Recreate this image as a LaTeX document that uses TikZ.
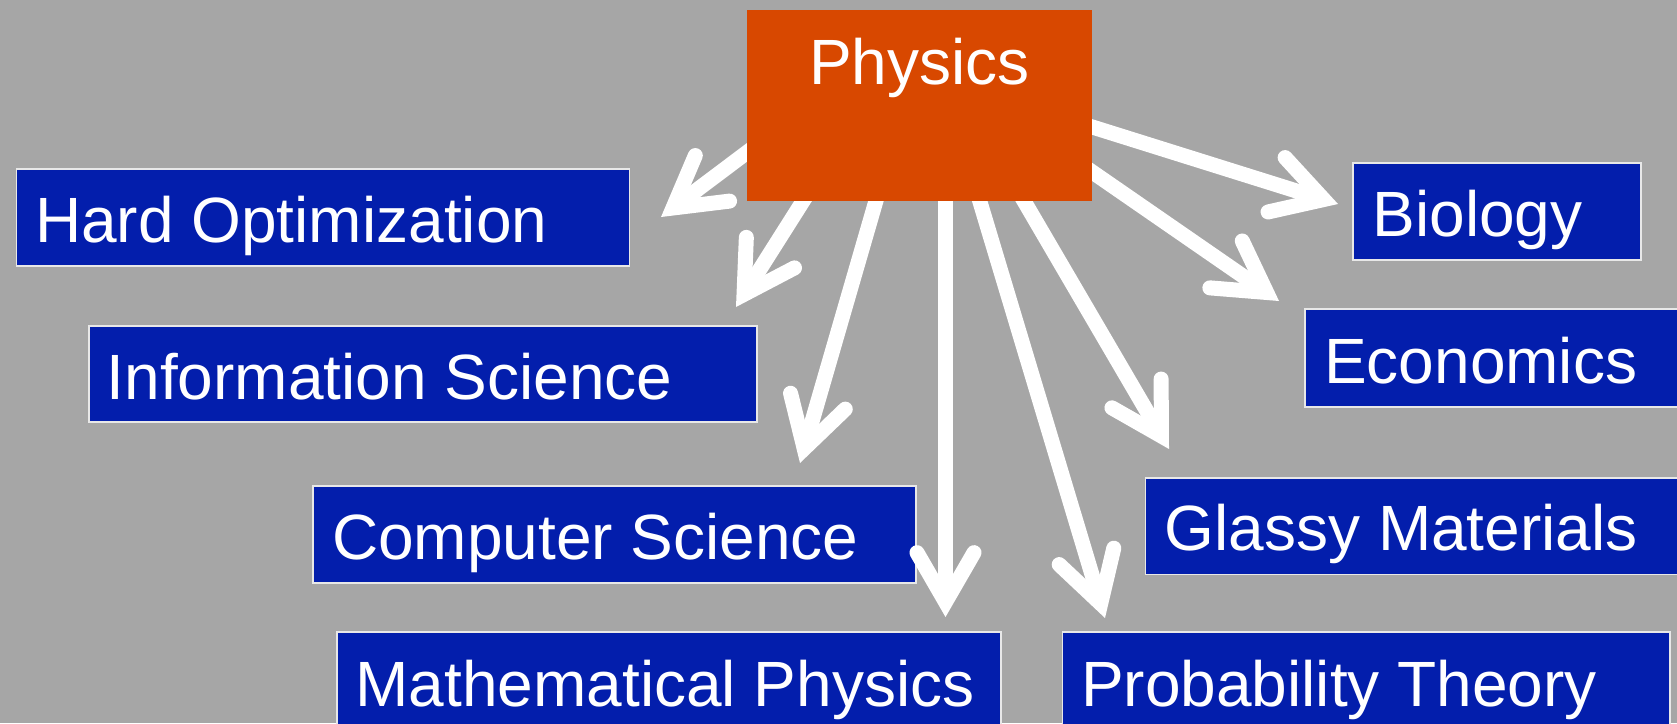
\documentclass[tikz,border=0pt]{standalone}
\usepackage{fontspec}
\setmainfont{Liberation Sans}
\usetikzlibrary{calc}
\definecolor{bggray}{RGB}{166,166,166}
\definecolor{boxblue}{RGB}{3,30,172}
\definecolor{physorange}{RGB}{216,72,0}
\definecolor{boxedge}{RGB}{232,232,232}
\tikzset{
  bluebox/.style={draw=boxedge, line width=1.6pt, fill=boxblue},
  lbl/.style={inner sep=0pt, text=white, font=\fontsize{64}{70}\selectfont},
  shaft/.style={draw=white, line width=15pt, line cap=butt},
  barb/.style={draw=white, line width=15pt, line cap=round, line join=miter},
}
\newcommand{\myarrow}[2]{%
  \coordinate (v#2) at ($(#2)!15pt!(#1)$);
  \draw[shaft] (#1) -- (v#2);
  \draw[barb] ($(v#2)!57pt!30:(#1)$) -- (v#2) -- ($(v#2)!57pt!-30:(#1)$);
}
\begin{document}
\begin{tikzpicture}[x=1pt,y=-1pt]
\useasboundingbox (0,0) rectangle (1677,723);
\clip (0,0) rectangle (1677,723);
\fill[bggray] (0,0) rectangle (1677,723);

% blue boxes
\path[bluebox] (16.5,169) rectangle (629.5,265.7);
\node[lbl, anchor=base west] (ho) at (35,242.7) {Hard Optimization};

\path[bluebox] (89,325.7) rectangle (757,422);
\node[lbl, anchor=base west] (is) at (106.5,399) {Information Science};

\path[bluebox] (313,485.7) rectangle (916,582.7);
\node[lbl, anchor=base west] (cs) at (331.8,559) {Computer Science};

\path[bluebox] (337,632) rectangle (1001,740);
\node[lbl, anchor=base west] (mp) at (355.3,706.7) {Mathematical Physics};

\path[bluebox] (1353,162.7) rectangle (1641,260);
\node[lbl, anchor=base west] (bio) at (1372.3,236.7) {Biology};

\path[bluebox] (1305,309) rectangle (1690,406.7);
\node[lbl, anchor=base west] (eco) at (1324,383) {Economics};

\path[bluebox] (1145.5,477.7) rectangle (1690,574.3);
\node[lbl, anchor=base west] (gm) at (1164.5,550.7) {Glassy Materials};

\path[bluebox] (1062.6,631.7) rectangle (1669.7,740);
\node[lbl, anchor=base west] (pt) at (1081,706) {Probability Theory};

% arrow coordinates
\coordinate (s1) at (786,123);   \coordinate (t1) at (661,217);
\coordinate (s2) at (836,149);   \coordinate (t2) at (736,307);
\coordinate (s3) at (893,142);   \coordinate (t3) at (800,463);
\coordinate (s4) at (945.5,150); \coordinate (t4) at (945.5,617);
\coordinate (s5) at (962,142);   \coordinate (t5) at (1105,618);
\coordinate (s6) at (993,148);   \coordinate (t6) at (1169,449);
\coordinate (s7) at (1059,149);  \coordinate (t7) at (1279,301);
\coordinate (s8) at (1054,115);  \coordinate (t8) at (1338,204);

\myarrow{s1}{t1}
\myarrow{s2}{t2}
\myarrow{s3}{t3}
\myarrow{s4}{t4}
\myarrow{s5}{t5}
\myarrow{s6}{t6}
\myarrow{s7}{t7}
\myarrow{s8}{t8}

% Physics box
\fill[physorange] (747,10) rectangle (1092,201);
\node[lbl, anchor=base] (phys) at (919.5,84) {Physics};
\end{tikzpicture}
\end{document}
